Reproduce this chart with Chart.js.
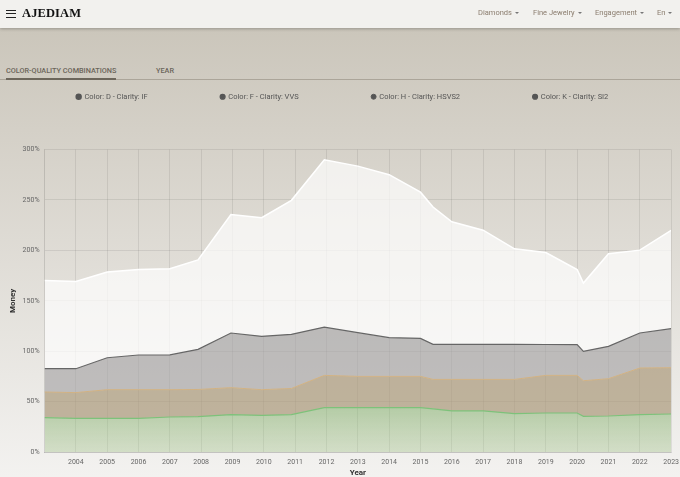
<!DOCTYPE html>
<html>
<head>
<meta charset="utf-8">
<title>AJEDIAM - Diamond prices</title>
<script src="https://cdn.jsdelivr.net/npm/chart.js@4.4.1/dist/chart.umd.min.js"></script>
<style>
  html, body { margin: 0; padding: 0; width: 680px; height: 477px; overflow: hidden; }
  body {
    position: relative;
    font-family: Roboto, "Noto Sans", sans-serif;
    background: linear-gradient(to bottom, #cbc6bb 28px, #f3f2f0 477px);
  }
  .topbar {
    position: absolute; left: 0; top: 0; width: 680px; height: 28px;
    background: #f2f1ee; box-shadow: 0 1px 3px rgba(0, 0, 0, 0.25); z-index: 2;
  }
  .burger {
    position: absolute; left: 6px; top: 10px; width: 10px; height: 8px;
    border-top: 1.5px solid #222; border-bottom: 1.5px solid #222; box-sizing: border-box;
  }
  .burger::after {
    content: ''; position: absolute; left: 0; top: 1.75px; width: 10px; height: 1.5px; background: #222;
  }
  .logo {
    position: absolute; left: 22px; top: 6px;
    font: bold 12.5px "Liberation Serif", "DejaVu Serif", serif; color: #111; letter-spacing: 0.1px;
  }
  .menu span {
    position: absolute; top: 8px; font-size: 7.5px; color: #8b7d6e; white-space: nowrap;
  }
  .menu span::after {
    content: ''; display: inline-block; margin-left: 3px; vertical-align: middle;
    border-left: 2px solid transparent; border-right: 2px solid transparent; border-top: 2.5px solid #777;
  }
  .tabs {
    position: absolute; left: 0; top: 64px; width: 680px; height: 15px;
    border-bottom: 1.5px solid #aba599;
  }
  .tabs span {
    position: absolute; top: 2px; font-size: 7.3px; font-weight: 500; color: #6b655a; white-space: nowrap;
  }
  .tabs .active::after {
    content: ''; position: absolute; left: 0; right: 0; top: 12px; height: 2px; background: #6c665b;
  }
  /* a bit wider than the page so the last x label can sit right at the edge */
  #wrap { position: absolute; left: 0; top: 20px; width: 685px; height: 458px; z-index: 1; }
</style>
</head>
<body>
<div class="topbar">
  <div class="burger"></div>
  <div class="logo">AJEDIAM</div>
  <div class="menu">
    <span style="left:478px">Diamonds</span>
    <span style="left:533px">Fine Jewelry</span>
    <span style="left:595px">Engagement</span>
    <span style="left:657px">En</span>
  </div>
</div>
<div class="tabs">
  <span class="active" style="left:6px">COLOR-QUALITY COMBINATIONS</span>
  <span style="left:156px">YEAR</span>
</div>
<div id="wrap"><canvas id="priceChart"></canvas></div>

<script>
// Years of each reading (some readings fall between two January ticks).
const years = [2003, 2004, 2005, 2006, 2007, 2007.9, 2008.95, 2009.93, 2010.88, 2011.93, 2013,
  2014, 2015, 2015.4, 2016, 2017, 2018, 2019, 2020, 2020.2, 2021, 2022, 2023];

const seriesLabels = ['Color: D - Clarity: IF', 'Color: F - Clarity: VVS',
  'Color: H - Clarity: HSVS2', 'Color: K - Clarity: SI2'];

// Values in % for each combination.
const colorD_IF = [170.2, 169.2, 178.4, 181.1, 181.8, 190.5, 235.6, 232.3, 249.6, 289.8, 283.5,
  275, 257.7, 243, 228.3, 220, 201.5, 197.8, 181, 167.5, 196.6, 200.2, 219.8];
const colorF_VVS = [82.6, 82.6, 93.5, 96.2, 96.3, 101.8, 118, 114.7, 116.7, 123.9, 118.3,
  113.4, 112.7, 106.7, 106.7, 106.7, 106.7, 106.6, 106.5, 99.8, 104.8, 118, 122.3];
const colorH_HSVS2 = [59.5, 58.9, 61.8, 61.8, 61.8, 62, 63.8, 61.8, 63, 76, 75,
  75, 75, 72, 72, 72, 72, 76, 76, 70.7, 72.7, 83.3, 83.6];
const colorK_SI2 = [34.1, 33.4, 33.4, 33.4, 34.7, 35, 37, 36.4, 37, 44, 44,
  44, 44, 42.8, 40.7, 40.7, 38, 38.7, 38.7, 35.4, 35.7, 37, 37.7];

const xTickYears = [2004, 2005, 2006, 2007, 2008, 2009, 2010, 2011, 2012, 2013,
  2014, 2015, 2016, 2017, 2018, 2019, 2020, 2021, 2022, 2023];
const yTickValues = [0, 50, 100, 150, 200, 250, 300];

const toPoints = values => years.map((x, i) => ({ x: x, y: values[i] }));

// Make room between the legend and the plot.
const legendGap = {
  id: 'legendGap',
  beforeInit(chart) {
    const originalFit = chart.legend.fit;
    chart.legend.fit = function fit() {
      originalFit.bind(chart.legend)();
      this.height += 39;
    };
  }
};

Chart.defaults.font.family = 'Roboto, "Noto Sans", sans-serif';

// legend dots are dark grey for every series, the points themselves are hidden
const legendDot = { pointRadius: 0, pointHoverRadius: 0, pointBackgroundColor: '#555', pointBorderColor: '#555' };

new Chart(document.getElementById('priceChart'), {
  type: 'line',
  data: {
    datasets: [
      Object.assign({
        label: seriesLabels[0],
        data: toPoints(colorD_IF),
        fill: '+1',
        backgroundColor: 'rgba(255, 255, 255, 0.67)',
        borderColor: '#ffffff',
        borderWidth: 1.5
      }, legendDot),
      Object.assign({
        label: seriesLabels[1],
        data: toPoints(colorF_VVS),
        fill: '+1',
        backgroundColor: 'rgba(160, 158, 160, 0.6)',
        borderColor: '#666666',
        borderWidth: 1.2
      }, legendDot),
      Object.assign({
        label: seriesLabels[2],
        data: toPoints(colorH_HSVS2),
        fill: '+1',
        backgroundColor: 'rgba(165, 145, 112, 0.64)',
        borderColor: '#d2b283',
        borderWidth: 1
      }, legendDot),
      Object.assign({
        label: seriesLabels[3],
        data: toPoints(colorK_SI2),
        fill: 'origin',
        backgroundColor: ctx => {
          const chart = ctx.chart;
          const area = chart.chartArea;
          if (!area) return 'rgba(120, 170, 95, 0.4)';
          const g = chart.ctx.createLinearGradient(0, area.bottom - 45, 0, area.bottom);
          g.addColorStop(0, 'rgba(110, 165, 85, 0.45)');
          g.addColorStop(1, 'rgba(140, 180, 110, 0.3)');
          return g;
        },
        borderColor: '#7dc27a',
        borderWidth: 1.2
      }, legendDot)
    ]
  },
  options: {
    responsive: true,
    maintainAspectRatio: false,
    animation: false,
    layout: { padding: 0 },
    elements: { line: { tension: 0 } },
    plugins: {
      filler: { drawTime: 'beforeDatasetsDraw' },
      tooltip: { enabled: false },
      legend: {
        position: 'top',
        labels: {
          usePointStyle: true,
          pointStyle: 'circle',
          boxWidth: 4,
          boxHeight: 3.5,
          padding: 73,
          color: '#555',
          font: { size: 7.5 }
        }
      }
    },
    scales: {
      x: {
        type: 'linear',
        min: 2003,
        max: 2023,
        afterBuildTicks: axis => { axis.ticks = xTickYears.map(v => ({ value: v })); },
        ticks: { callback: v => String(v), color: '#666', font: { size: 7 }, padding: 6, maxRotation: 0, autoSkip: false },
        grid: { color: 'rgba(0, 0, 0, 0.08)', drawTicks: false },
        border: { color: 'rgba(0, 0, 0, 0.12)' },
        title: { display: true, text: 'Year', color: '#333', font: { size: 8, weight: 'bold' }, padding: { top: -4, bottom: 0 } }
      },
      y: {
        min: 0,
        max: 300,
        afterBuildTicks: axis => { axis.ticks = yTickValues.map(v => ({ value: v })); },
        ticks: { callback: v => v + '%', color: '#666', font: { size: 7 }, padding: 5 },
        grid: { color: 'rgba(0, 0, 0, 0.08)', drawTicks: false },
        border: { color: 'rgba(0, 0, 0, 0.12)' },
        title: { display: true, text: 'Money', color: '#333', font: { size: 8, weight: 'bold' }, padding: { top: 8, bottom: 0 } }
      }
    }
  },
  plugins: [legendGap]
});
</script>
</body>
</html>
